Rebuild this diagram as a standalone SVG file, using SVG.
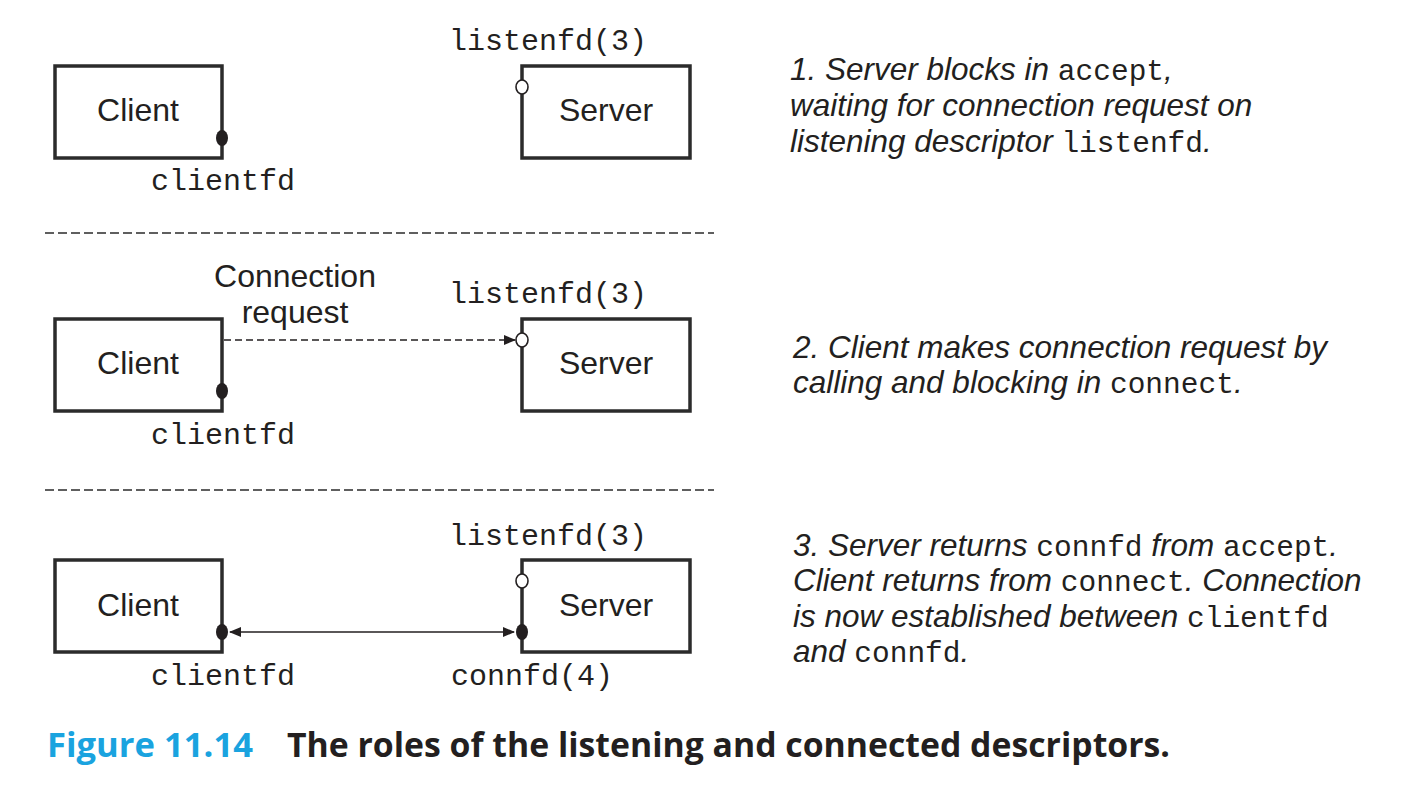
<svg xmlns="http://www.w3.org/2000/svg" width="1402" height="812" viewBox="0 0 1402 812">
<defs>
<style>
.box{fill:none;stroke:#2b2b2b;stroke-width:3.5}
.lbl{font-family:"Liberation Sans",Arial,sans-serif;font-size:32px;fill:#231f20;text-anchor:middle}
.mono{font-family:"Liberation Mono","Courier New",monospace;font-size:30px;fill:#231f20}
.desc{font-family:"Liberation Sans",Arial,sans-serif;font-size:31.5px;font-style:italic;fill:#231f20}
.dm{font-family:"Liberation Mono","Courier New",monospace;font-style:normal;font-size:29.5px}
.sep{stroke:#2b2b2b;stroke-width:1.6;stroke-dasharray:9 4}
.dot{fill:#231f20}
.open{fill:#fff;stroke:#231f20;stroke-width:1.6}
.cap{font-family:"Open Sans",Lato,sans-serif;font-weight:bold;font-size:34px}
</style>
<marker id="ah" markerWidth="12" markerHeight="10" refX="11" refY="5" orient="auto-start-reverse" markerUnits="userSpaceOnUse">
<path d="M0,0 L12,5 L0,10 Z" fill="#231f20"/>
</marker>
</defs>
<rect width="1402" height="812" fill="#fff"/>

<g id="separators">
<line class="sep" x1="45" y1="233" x2="714" y2="233"/>
<line class="sep" x1="45" y1="490" x2="714" y2="490"/>
</g>

<g id="connectors">
<line x1="224" y1="340" x2="515" y2="340" stroke="#231f20" stroke-width="1.6" stroke-dasharray="7 4" marker-end="url(#ah)"/>
<line x1="230" y1="632" x2="514" y2="632" stroke="#231f20" stroke-width="1.6" marker-start="url(#ah)" marker-end="url(#ah)"/>
</g>

<!-- Step 1 -->
<g id="client1">
<rect class="box" x="55" y="66" width="167" height="92"/>
<text class="lbl" x="138" y="121">Client</text>
<ellipse class="dot" cx="222" cy="138" rx="6" ry="8"/>
<text class="mono" x="151" y="190">clientfd</text>
</g>
<g id="server1">
<rect class="box" x="522" y="66" width="168" height="92"/>
<text class="lbl" x="606" y="121">Server</text>
<ellipse class="open" cx="522" cy="87" rx="6" ry="7"/>
<text class="mono" x="449" y="50">listenfd(3)</text>
</g>
<g id="desc1">
<text class="desc" x="790" y="80">1. Server blocks in <tspan class="dm">accept</tspan>,</text>
<text class="desc" x="790" y="116">waiting for connection request on</text>
<text class="desc" x="790" y="152">listening descriptor <tspan class="dm">listenfd</tspan>.</text>
</g>

<!-- Step 2 -->
<g id="client2">
<rect class="box" x="55" y="319" width="167" height="92"/>
<text class="lbl" x="138" y="374">Client</text>
<ellipse class="dot" cx="222" cy="391" rx="6" ry="8"/>
<text class="mono" x="151" y="444">clientfd</text>
</g>
<g id="server2">
<rect class="box" x="522" y="319" width="168" height="92"/>
<text class="lbl" x="606" y="374">Server</text>
<ellipse class="open" cx="522" cy="340" rx="6" ry="7"/>
<text class="mono" x="449" y="303">listenfd(3)</text>
</g>
<g id="conn-label">
<text class="lbl" x="295" y="287">Connection</text>
<text class="lbl" x="295" y="323">request</text>
</g>
<g id="desc2">
<text class="desc" x="793" y="358">2. Client makes connection request by</text>
<text class="desc" x="793" y="393">calling and blocking in <tspan class="dm">connect</tspan>.</text>
</g>

<!-- Step 3 -->
<g id="client3">
<rect class="box" x="55" y="560" width="167" height="92"/>
<text class="lbl" x="138" y="616">Client</text>
<ellipse class="dot" cx="222" cy="632" rx="6" ry="8"/>
<text class="mono" x="151" y="685">clientfd</text>
</g>
<g id="server3">
<rect class="box" x="522" y="560" width="168" height="92"/>
<text class="lbl" x="606" y="616">Server</text>
<ellipse class="open" cx="522" cy="581" rx="6" ry="7"/>
<ellipse class="dot" cx="522" cy="632" rx="6" ry="8"/>
<text class="mono" x="449" y="545">listenfd(3)</text>
<text class="mono" x="451" y="685">connfd(4)</text>
</g>
<g id="desc3">
<text class="desc" x="793" y="556">3. Server returns <tspan class="dm">connfd</tspan> from <tspan class="dm">accept</tspan>.</text>
<text class="desc" x="793" y="591">Client returns from <tspan class="dm">connect</tspan>. Connection</text>
<text class="desc" x="793" y="627">is now established between <tspan class="dm">clientfd</tspan></text>
<text class="desc" x="793" y="662">and <tspan class="dm">connfd</tspan>.</text>
</g>

<g id="caption">
<text class="cap" x="47" y="757" fill="#1aa3df" textLength="206" lengthAdjust="spacingAndGlyphs">Figure 11.14</text>
<text class="cap" x="287" y="757" fill="#231f20" textLength="883" lengthAdjust="spacingAndGlyphs">The roles of the listening and connected descriptors.</text>
</g>
</svg>
